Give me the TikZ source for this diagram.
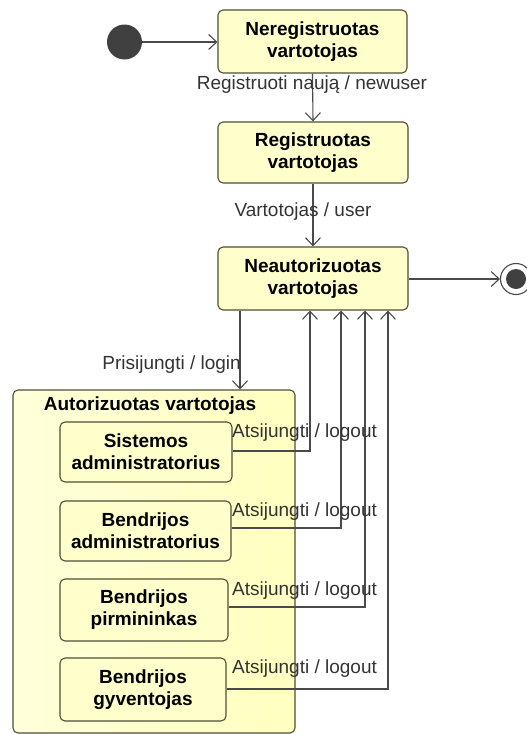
\documentclass[tikz,border=0pt]{standalone}
\usepackage{fontspec}
\setmainfont{Liberation Sans}
\usetikzlibrary{arrows.meta}
\definecolor{statefill}{HTML}{FFFFCC}
\definecolor{compleft}{HTML}{FFFFDA}
\definecolor{compright}{HTML}{FFFFC0}
\definecolor{stateborder}{HTML}{4F4F36}
\definecolor{wire}{HTML}{4A4A4A}
\definecolor{labeltext}{HTML}{333333}
\definecolor{dot}{HTML}{404040}
\tikzset{
  stbox/.style={draw=stateborder, line width=1.1pt, fill=statefill, rounded corners=5pt,
    align=center, inner sep=0pt, font=\bfseries\fontsize{19}{22}\selectfont},
  trans/.style={draw=wire, line width=1.1pt, -{Straight Barb[length=8pt,width=15pt,line width=1.1pt]}},
  evlabel/.style={text=labeltext, inner sep=0pt, font=\fontsize{19}{22}\selectfont}
}
\begin{document}
\begin{tikzpicture}[x=1pt,y=-1pt]
\useasboundingbox (0,0) rectangle (527,734);

% composite state
\node[stbox, left color=compleft, right color=compright, minimum width=282pt, minimum height=343pt] (auth) at (154,561.5) {};
\node[font=\bfseries\fontsize{19}{22}\selectfont, inner sep=0pt] (authtitle) at (150,406) {Autorizuotas vartotojas};

% pseudo states
\node[circle, fill=dot, minimum size=35pt, inner sep=0pt] (init) at (124.5,42) {};
\node[circle, draw=wire, line width=1.1pt, fill=white, minimum size=31pt, inner sep=0pt] (final) at (516,279) {};
\node[circle, fill=dot, minimum size=20pt, inner sep=0pt] (finaldot) at (516,279) {};

% top-level states
\node[stbox, minimum width=189pt, minimum height=63pt] (nereg) at (312.5,41.5) {Neregistruotas\\vartotojas};
\node[stbox, minimum width=190pt, minimum height=61pt] (reg) at (313,152.5) {Registruotas\\vartotojas};
\node[stbox, minimum width=190pt, minimum height=63pt] (neaut) at (313,278.5) {Neautorizuotas\\vartotojas};

% substates
\node[stbox, minimum width=172pt, minimum height=60pt] (sis) at (146,452) {Sistemos\\administratorius};
\node[stbox, minimum width=171pt, minimum height=60pt] (badm) at (145.5,531) {Bendrijos\\administratorius};
\node[stbox, minimum width=168pt, minimum height=62pt] (bpirm) at (144,610) {Bendrijos\\pirmininkas};
\node[stbox, minimum width=166pt, minimum height=63pt] (bgyv) at (143,689.5) {Bendrijos\\gyventojas};

% transitions
\draw[trans] (init) -- (nereg.west |- init);
\draw[trans] (nereg.south) -- (reg.north);
\draw[trans] (reg.south) -- (neaut.north);
\draw[trans] (neaut.east |- final) -- (final.west);
\draw[trans] (neaut.south -| 240,0) -- (auth.north -| 240,0);
\draw[trans] (sis.east |- 0,451) -| (neaut.south -| 310,0);
\draw[trans] (badm.east |- 0,528) -| (neaut.south -| 341,0);
\draw[trans] (bpirm.east |- 0,607) -| (neaut.south -| 365,0);
\draw[trans] (bgyv.east |- 0,689) -| (neaut.south -| 388,0);

% event labels
\node[evlabel] (lreg) at (312,85) {Registruoti naują / newuser};
\node[evlabel] (luser) at (303,212) {Vartotojas / user};
\node[evlabel, anchor=east] (llogin) at (241,365) {Prisijungti / login};
\node[evlabel, anchor=west] (lout1) at (232,433) {Atsijungti / logout};
\node[evlabel, anchor=west] (lout2) at (232,512) {Atsijungti / logout};
\node[evlabel, anchor=west] (lout3) at (232,591) {Atsijungti / logout};
\node[evlabel, anchor=west] (lout4) at (232,669) {Atsijungti / logout};
\end{tikzpicture}
\end{document}
